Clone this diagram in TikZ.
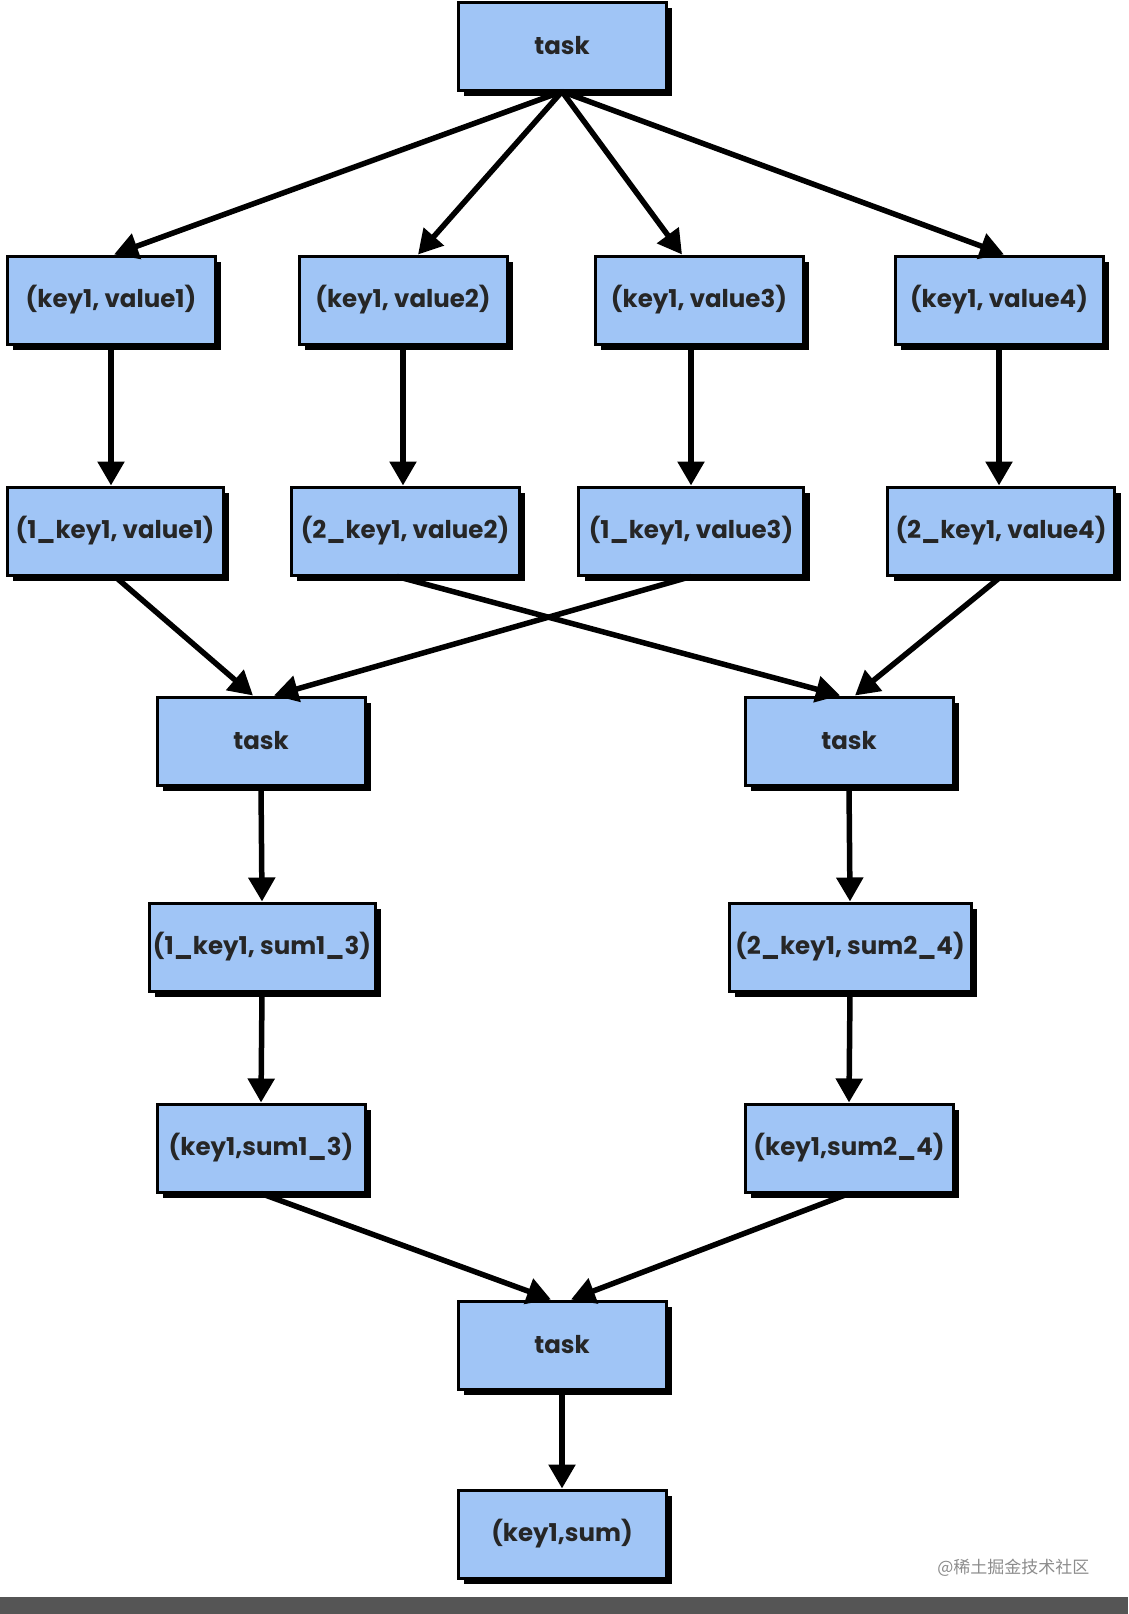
\documentclass[tikz,border=0pt]{standalone}
\usepackage{fontspec}
\setmainfont{Poppins}
\newfontfamily\cjkfont{Noto Sans CJK SC}
\usetikzlibrary{arrows.meta,shadows}
\definecolor{boxblue}{RGB}{160,197,246}
\definecolor{barfill}{RGB}{85,85,85}
\begin{document}
\begin{tikzpicture}[
  x=1pt,y=-1pt,
  font=\bfseries\fontsize{24.5}{28}\selectfont,
  kvbox/.style={draw=black,line width=3pt,fill=boxblue,minimum width=208pt,minimum height=88pt,inner sep=1pt,
    text=black!85,drop shadow={shadow xshift=6pt,shadow yshift=-6pt,fill=black,opacity=1}},
  arrow/.style={-{Triangle[width=26pt,length=24pt]},line width=5.5pt}
]
\useasboundingbox (0,0) rectangle (1128,1614);
% map
\node[kvbox] (task) at (562,46) {task};
\node[kvbox] (kv1) at (111,300) {(key1, value1)};
\node[kvbox] (kv2) at (403,300) {(key1, value2)};
\node[kvbox] (kv3) at (699,300) {(key1, value3)};
\node[kvbox] (kv4) at (999,300) {(key1, value4)};
\node[kvbox,minimum width=216pt] (pk1) at (115,531) {(1\_key1, value1)};
\node[kvbox,minimum width=228pt] (pk2) at (405,531) {(2\_key1, value2)};
\node[kvbox,minimum width=225pt] (pk3) at (691,531) {(1\_key1, value3)};
\node[kvbox,minimum width=227pt] (pk4) at (1001,531) {(2\_key1, value4)};
% reduce
\node[kvbox] (taskA) at (261,741) {task};
\node[kvbox] (taskB) at (849,741) {task};
\node[kvbox,minimum width=226pt] (sumA) at (262,947) {(1\_key1, sum1\_3)};
\node[kvbox,minimum width=242pt] (sumB) at (850,947) {(2\_key1, sum2\_4)};
\node[kvbox] (resA) at (261,1148) {(key1,sum1\_3)};
\node[kvbox] (resB) at (849,1148) {(key1,sum2\_4)};
\node[kvbox] (taskC) at (562,1345) {task};
\node[kvbox] (final) at (562,1534) {(key1,sum)};
% arrows
\draw[arrow] (task.south) -- ([xshift=3pt]kv1.north);
\draw[arrow] (task.south) -- ([xshift=15pt]kv2.north);
\draw[arrow] (task.south) -- ([xshift=-17pt]kv3.north);
\draw[arrow] (task.south) -- ([xshift=5pt]kv4.north);
\draw[arrow] (kv1.south) -- (kv1.south |- pk1.north);
\draw[arrow] (kv2.south) -- (kv2.south |- pk2.north);
\draw[arrow] (pk3.north |- kv3.south) -- (pk3.north);
\draw[arrow] (kv4.south) -- (kv4.south |- pk4.north);
\draw[arrow] (pk1.south) -- ([xshift=-8pt]taskA.north);
\draw[arrow] (pk3.south) -- ([xshift=13pt]taskA.north);
\draw[arrow] ([xshift=-8pt]pk2.south) -- ([xshift=-9pt]taskB.north);
\draw[arrow] (pk4.south) -- ([xshift=6pt]taskB.north);
\draw[arrow] (taskA.south) -- (sumA.north);
\draw[arrow] (taskB.south) -- (sumB.north);
\draw[arrow] (sumA.south) -- (resA.north);
\draw[arrow] (sumB.south) -- (resB.north);
\draw[arrow] (resA.south) -- ([xshift=-11pt]taskC.north);
\draw[arrow] (resB.south) -- ([xshift=9pt]taskC.north);
\draw[arrow] (taskC.south) -- (final.north);
% watermark and bar
\node[font=\cjkfont\fontsize{17}{20}\selectfont,text=black!45,anchor=east] (mark) at (1093,1568) {@稀土掘金技术社区};
\fill[barfill] (0,1597) rectangle (1128,1614);
\end{tikzpicture}
\end{document}
